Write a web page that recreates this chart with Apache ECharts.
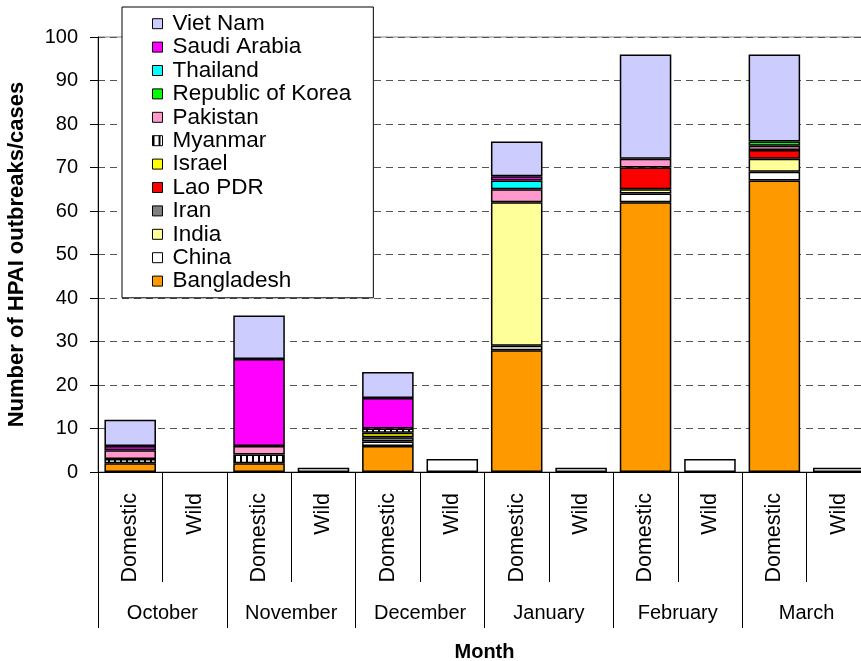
<!DOCTYPE html>
<html>
<head>
<meta charset="utf-8">
<script src="https://cdn.jsdelivr.net/npm/echarts@6/dist/echarts.min.js"></script>
<style>
html, body { margin: 0; padding: 0; background: #fff; }
#demo { width: 861px; height: 661px; }
</style>
</head>
<body>
<div id="demo"></div>
<script>
// categories
var birdTypes = ['Domestic', 'Wild', 'Domestic', 'Wild', 'Domestic', 'Wild',
                 'Domestic', 'Wild', 'Domestic', 'Wild', 'Domestic', 'Wild'];
var months = ['October', 'November', 'December', 'January', 'February', 'March'];

// values per country, bottom of stack first
var bangladesh = [2, 0, 2, 0, 6, 0, 28, 0, 62, 0, 67, 0];
var china      = [0, 0, 0, 1, 1, 3, 1, 1, 2, 3, 2, 1];
var india      = [0, 0, 0, 0, 0, 0, 33, 0, 1, 0, 3, 0];
var iran       = [0, 0, 0, 0, 1, 0, 0, 0, 0, 0, 0, 0];
var lao        = [0, 0, 0, 0, 0, 0, 0, 0, 5, 0, 2, 0];
var israel     = [0, 0, 0, 0, 1, 0, 0, 0, 0, 0, 0, 0];
var myanmar    = [1, 0, 2, 0, 1, 0, 0, 0, 0, 0, 0, 0];
var pakistan   = [2, 0, 2, 0, 0, 0, 3, 0, 2, 0, 1, 0];
var korea      = [0, 0, 0, 0, 0, 0, 0, 0, 0, 0, 1, 0];
var thailand   = [0, 0, 0, 0, 0, 0, 2, 0, 0, 0, 0, 0];
var saudi      = [1, 0, 20, 0, 7, 0, 1, 0, 0, 0, 0, 0];
var vietnam    = [6, 0, 10, 0, 6, 0, 8, 0, 24, 0, 20, 0];

// striped fill for Myanmar
var stripe = document.createElement('canvas');
stripe.width = 6;
stripe.height = 6;
var ctx = stripe.getContext('2d');
ctx.fillStyle = '#fff';
ctx.fillRect(0, 0, 6, 6);
ctx.fillStyle = '#000';
ctx.fillRect(0, 0, 2, 6);

var countries = [
    {name: 'Bangladesh', data: bangladesh, color: '#FF9900'},
    {name: 'China', data: china, color: '#FFFFFF'},
    {name: 'India', data: india, color: '#FFFF99'},
    {name: 'Iran', data: iran, color: '#808080'},
    {name: 'Lao PDR', data: lao, color: '#FF0000'},
    {name: 'Israel', data: israel, color: '#FFFF00'},
    {name: 'Myanmar', data: myanmar, color: {image: stripe, repeat: 'repeat'}},
    {name: 'Pakistan', data: pakistan, color: '#FF99CC'},
    {name: 'Republic of Korea', data: korea, color: '#00FF00'},
    {name: 'Thailand', data: thailand, color: '#00FFFF'},
    {name: 'Saudi Arabia', data: saudi, color: '#FF00FF'},
    {name: 'Viet Nam', data: vietnam, color: '#CCCCFF'}
];

var font = 'Liberation Sans, Arial, sans-serif';

var series = countries.map(function (c) {
    return {
        name: c.name,
        type: 'bar',
        stack: 'total',
        xAxisIndex: 0,
        barCategoryGap: '20%',
        itemStyle: {
            color: c.color,
            borderColor: '#000',
            borderWidth: 1.5
        },
        data: c.data.map(function (v) { return v === 0 ? '-' : v; })
    };
});

var myChart = echarts.init(document.getElementById('demo'));

var option = {
    animation: false,
    textStyle: {fontFamily: font},
    grid: {
        left: 98,
        top: 37,
        width: 773,
        height: 435,
        outerBoundsMode: 'none',
        show: true,
        borderColor: '#808080',
        borderWidth: 1
    },
    legend: {
        orient: 'vertical',
        left: 122,
        top: 7,
        icon: 'rect',
        itemWidth: 10,
        itemHeight: 10,
        itemGap: 0,
        padding: [5, 22, 5, 30],
        backgroundColor: '#fff',
        borderColor: '#000',
        borderWidth: 1,
        itemStyle: {borderColor: '#000', borderWidth: 1},
        textStyle: {
            fontFamily: font,
            fontSize: 22.5,
            lineHeight: 23.4,
            color: '#000',
            padding: [0, 0, 0, 5]
        },
        data: countries.map(function (c) { return c.name; }).reverse()
    },
    xAxis: [
        {
            type: 'category',
            data: birdTypes,
            axisLine: {lineStyle: {color: '#000', width: 1}},
            axisTick: {show: true, interval: 0, length: 110, lineStyle: {color: '#000'}},
            axisLabel: {
                interval: 0,
                rotate: 90,
                margin: 21,
                fontSize: 21.5,
                color: '#000',
                fontFamily: font
            }
        },
        {
            type: 'category',
            data: months,
            position: 'bottom',
            axisLine: {show: false},
            axisTick: {show: true, interval: 0, length: 156, lineStyle: {color: '#000'}},
            axisLabel: {
                interval: 0,
                margin: 131,
                fontSize: 20,
                color: '#000',
                fontFamily: font
            },
            name: 'Month',
            nameLocation: 'middle',
            nameGap: 170,
            nameTextStyle: {
                fontSize: 20,
                fontWeight: 'bold',
                color: '#000',
                fontFamily: font
            }
        }
    ],
    yAxis: {
        type: 'value',
        min: 0,
        max: 100,
        interval: 10,
        axisLine: {show: true, lineStyle: {color: '#000'}},
        axisTick: {show: true, length: 8, lineStyle: {color: '#000'}},
        axisLabel: {
            margin: 20,
            fontSize: 20,
            color: '#000',
            fontFamily: font
        },
        splitLine: {
            lineStyle: {color: '#555', width: 1, type: [7, 5]}
        },
        name: 'Number of HPAI outbreaks/cases',
        nameLocation: 'middle',
        nameGap: 70,
        nameTextStyle: {
            fontSize: 22,
            fontWeight: 'bold',
            color: '#000',
            fontFamily: font
        }
    },
    series: series
};

myChart.setOption(option);
</script>
</body>
</html>
